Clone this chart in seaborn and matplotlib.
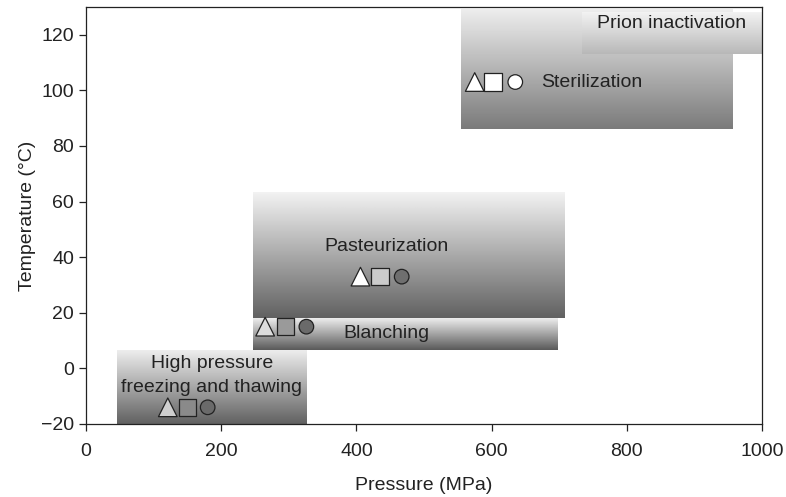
import matplotlib
matplotlib.use("Agg")
import matplotlib.pyplot as plt
import numpy as np
import pandas as pd
import seaborn as sns

# processing windows (MPa, degC)
processes = ["High pressure\nfreezing and thawing", "Blanching", "Pasteurization", "Sterilization", "Prion inactivation"]
p_lo = [46, 247, 247, 555, 734]
p_hi = [327, 698, 708, 957, 1000]
t_lo = [-20, 6.5, 18, 86, 113]
t_hi = [6.5, 18, 63, 129, 128]
shade_top = [0.93, 0.93, 0.95, 0.93, 0.95]
shade_bot = [0.38, 0.35, 0.38, 0.48, 0.72]

label_p = [186, 445, 445, 748, 866]
label_t = [-2.5, 12.5, 44, 103, 124]

# marker groups: triangle / square / circle
mk_process = ["High pressure", "Blanching", "Pasteurization", "Sterilization"]
tri_p = [121, 265, 406, 575]
sq_p = [150, 295, 435, 602]
circ_p = [180, 326, 467, 635]
mk_t = [-14, 15, 33, 103]
tri_col = ["#cfcfcf", "#dcdcdc", "#ffffff", "#ffffff"]
sq_col = ["#8a8a8a", "#9a9a9a", "#cbcbcb", "#ffffff"]
circ_col = ["#6a6a6a", "#6a6a6a", "#6f6f6f", "#ffffff"]

sns.set_style("ticks")
plt.rcParams["font.family"] = ["Liberation Sans", "DejaVu Sans"]

fig = plt.figure(figsize=(7.86, 4.97), dpi=100)
ax = fig.add_axes([0.1094, 0.1469, 0.8601, 0.8391])

for i in range(len(processes)):
    grad = np.linspace(shade_top[i], shade_bot[i], 256).reshape(-1, 1)
    ax.imshow(grad, cmap="gray", vmin=0, vmax=1, aspect="auto",
              extent=[p_lo[i], p_hi[i], t_lo[i], t_hi[i]], origin="upper",
              zorder=1 + i * 0.1)

for i, name in enumerate(processes):
    ax.text(label_p[i], label_t[i], name, ha="center", va="center",
            fontsize=14, color="#222222", linespacing=1.5, zorder=5)

rows = []
for shape, xs, cols in [("^", tri_p, tri_col), ("s", sq_p, sq_col), ("o", circ_p, circ_col)]:
    for j in range(len(mk_process)):
        rows.append({"p": xs[j], "t": mk_t[j], "shape": shape, "col": cols[j]})
df = pd.DataFrame(rows)
sizes = {"^": 180, "s": 155, "o": 110}
for shape, sub in df.groupby("shape"):
    sns.scatterplot(data=sub, x="p", y="t", marker=shape, s=sizes[shape], c=sub["col"].tolist(),
                    edgecolor="#222222", linewidth=0.9, ax=ax, zorder=6, legend=False)

ax.set_xlim(0, 1000)
ax.set_ylim(-20, 130)
ax.set_xticks([0, 200, 400, 600, 800, 1000])
ax.set_yticks([-20, 0, 20, 40, 60, 80, 100, 120])
ax.set_yticklabels(["\u221220", "0", "20", "40", "60", "80", "100", "120"])
ax.tick_params(labelsize=14, length=5, width=0.9, colors="#222222")
ax.tick_params(axis="x", pad=9)
ax.set_xlabel("Pressure (MPa)", fontsize=14, color="#222222", labelpad=12)
ax.set_ylabel("Temperature (\u00b0C)", fontsize=14, color="#222222")
for s in ax.spines.values():
    s.set_visible(True)
    s.set_linewidth(0.9)
    s.set_color("#222222")

fig.savefig("out.png", dpi=100)
